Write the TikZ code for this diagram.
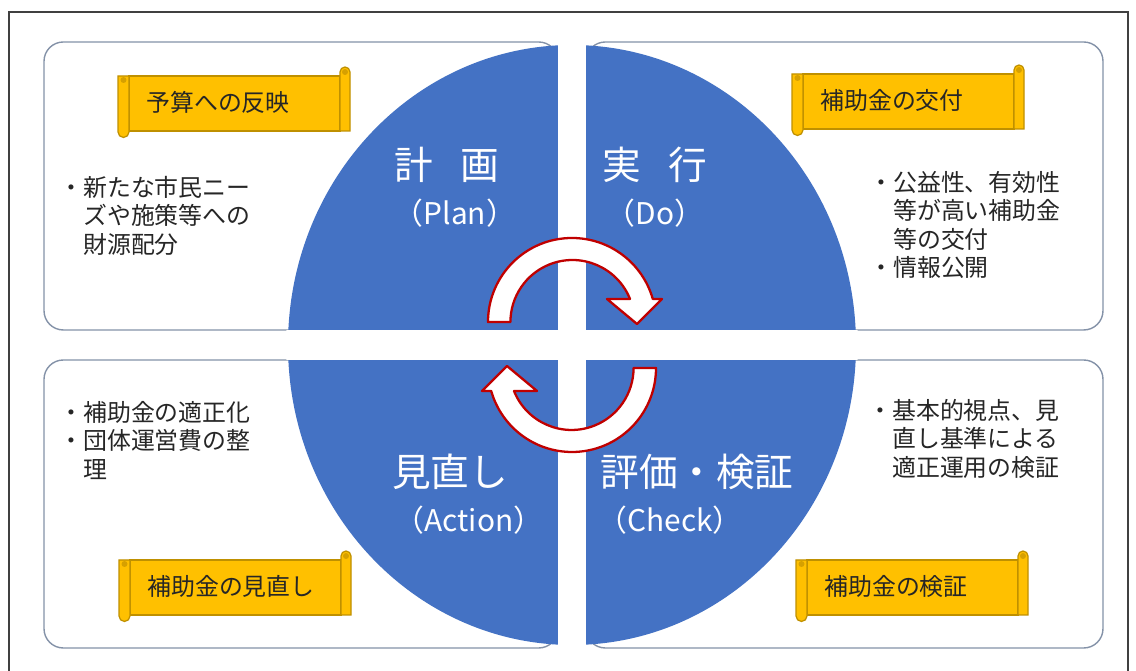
\documentclass[tikz,border=0pt]{standalone}
\usepackage{fontspec}
\setmainfont{Noto Sans CJK JP}
\definecolor{quadblue}{RGB}{68,114,196}
\definecolor{boxedge}{RGB}{132,146,168}
\definecolor{scrollgold}{RGB}{255,192,0}
\definecolor{scrolledge}{RGB}{191,144,0}
\definecolor{scrollcurl}{RGB}{214,160,0}
\definecolor{arrowred}{RGB}{192,0,0}
\begin{document}
\begin{tikzpicture}[x=0.02cm, y=0.02cm,
	quadbox/.style={draw=boxedge, line width=0.8pt, fill=white, rounded corners=11pt},
	scrollbox/.style={draw=scrolledge, line width=0.7pt, fill=scrollgold},
	cyclearrow/.style={draw=arrowred, line width=1.3pt, fill=white, line join=round},
	bodytext/.style={anchor=north west, align=left, inner sep=0pt, text=black!85, font=\fontsize{13.6}{16.2}\selectfont},
	scrolltext/.style={anchor=west, inner sep=0pt, text=black!85, font=\fontsize{13.6}{16}\selectfont},
	titlejp/.style={inner sep=0pt, text=white, font=\fontsize{22}{26}\selectfont},
	titleen/.style={inner sep=0pt, text=white, font=\fontsize{17}{20}\selectfont}]
	% 1. Khung ngoài
	\useasboundingbox (0,0) rectangle (1136,671);
	\draw[black!75, line width=0.9pt] (9,0) -- (9,659) -- (1128,659) -- (1128,0);
	
	% 2. Bốn ô bo góc
	\draw[quadbox] (44,341) rectangle (558,629);
	\draw[quadbox] (586,341) rectangle (1103,629);
	\draw[quadbox] (44,23) rectangle (558,311);
	\draw[quadbox] (586,23) rectangle (1103,311);
	
	% 3. Hình tròn xanh chia bốn phần
	\fill[quadblue] (572,326) ellipse [x radius=284, y radius=300];
	\begin{scope}
		\clip (572,326) ellipse [x radius=286, y radius=302];
		\fill[white] (558,0) rectangle (586,671);
		\fill[white] (0,311) rectangle (1136,341);
	\end{scope}
	
	% 4. Hai mũi tên vòng
	\foreach \rot in {0,180} {
		\draw[cyclearrow, rotate around={\rot:(572,326)}] (488,349) arc[start angle=180, end angle=15.9, radius=84]
			-- (662,372) -- (637,347) -- (607,372) -- (630,372)
			arc[start angle=21.8, end angle=180, radius=62] -- cycle;
	}
	
	% 5. Tiêu đề trong hình tròn
	\node[titlejp] (plan) at (447,506) {計\hspace{0.7em}画};
	\node[titleen] (planEn) at (455,458) {（Plan）};
	\node[titlejp] (do) at (655,506) {実\hspace{0.7em}行};
	\node[titleen] (doEn) at (655,458) {（Do）};
	\node[titlejp] (action) at (450,199) {見直し};
	\node[titleen] (actionEn) at (469,151) {（Action）};
	\node[titlejp] (check) at (697,199) {評価・検証};
	\node[titleen] (checkEn) at (670,151) {（Check）};
	
	% 6. Các dải cuộn màu vàng
	\foreach \sx/\sy/\sname/\stext in {122/540/scrollPlan/予算への反映, 796/542/scrollDo/補助金の交付,
		123/56/scrollAct/補助金の見直し, 800/56/scrollChk/補助金の検証} {
		\draw[scrollbox] (\sx+7,\sy) rectangle (\sx+218,\sy+55);
		\draw[scrollbox] (\sx-4,\sy+55) -- (\sx-4,\sy-1) arc[start angle=180, end angle=360, radius=5.5] -- (\sx+7,\sy+55) -- cycle;
		\draw[scrollbox] (\sx+218,\sy) -- (\sx+218,\sy+59) arc[start angle=180, end angle=0, radius=5] -- (\sx+228,\sy) -- cycle;
		\fill[scrollcurl] (\sx+1.5,\sy+51) circle (3);
		\fill[scrollcurl] (\sx+223,\sy+59) circle (3);
		\node[scrolltext] (\sname) at (\sx+24,\sy+29) {\stext};
	}
	
	% 7. Nội dung từng ô
	\node[bodytext] (planText) at (59,495) {・新たな市民ニー\\\hspace*{1em}ズや施策等への\\\hspace*{1em}財源配分};
	\node[bodytext] (doText) at (869,500) {・公益性、有効性\\\hspace*{1em}等が高い補助金\\\hspace*{1em}等の交付\\・情報公開};
	\node[bodytext] (actionText) at (59,270) {・補助金の適正化\\・団体運営費の整\\\hspace*{1em}理};
	\node[bodytext] (checkText) at (868,272) {・基本的視点、見\\\hspace*{1em}直し基準による\\\hspace*{1em}適正運用の検証};
\end{tikzpicture}
\end{document}
